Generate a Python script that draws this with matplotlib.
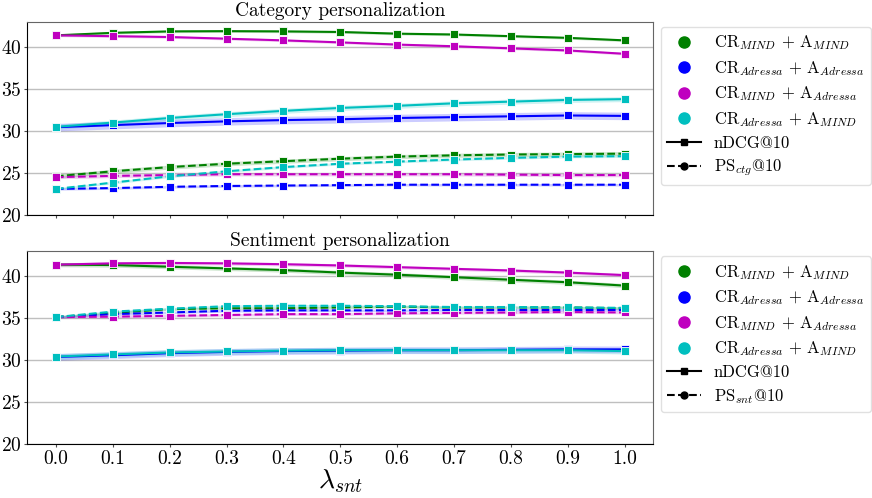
import matplotlib
matplotlib.use("Agg")
import matplotlib.pyplot as plt
from matplotlib.lines import Line2D
import numpy as np

plt.rcParams['font.family'] = 'serif'
plt.rcParams['font.serif'] = ['cmr10']
plt.rcParams['mathtext.fontset'] = 'cm'
plt.rcParams['axes.formatter.use_mathtext'] = True

# lambda values
lam = [0.0, 0.1, 0.2, 0.3, 0.4, 0.5, 0.6, 0.7, 0.8, 0.9, 1.0]

# ---- Category personalization (nDCG@10 / PS_ctg@10)
ctg_ndcg_mm = [41.4, 41.7, 41.87, 41.9, 41.87, 41.8, 41.6, 41.5, 41.3, 41.1, 40.8]
ctg_ndcg_aa = [30.45, 30.7, 30.95, 31.15, 31.3, 31.4, 31.55, 31.65, 31.75, 31.85, 31.8]
ctg_ndcg_ma = [41.4, 41.3, 41.2, 41.0, 40.8, 40.56, 40.3, 40.1, 39.85, 39.6, 39.2]
ctg_ndcg_am = [30.5, 31.0, 31.55, 32.0, 32.4, 32.75, 33.0, 33.3, 33.5, 33.7, 33.8]
ctg_ps_mm = [24.6, 25.2, 25.7, 26.1, 26.4, 26.7, 26.95, 27.1, 27.2, 27.25, 27.3]
ctg_ps_aa = [23.1, 23.2, 23.35, 23.45, 23.5, 23.55, 23.6, 23.6, 23.6, 23.6, 23.6]
ctg_ps_ma = [24.5, 24.65, 24.75, 24.85, 24.85, 24.85, 24.85, 24.85, 24.8, 24.75, 24.75]
ctg_ps_am = [23.1, 23.85, 24.6, 25.2, 25.7, 26.1, 26.35, 26.6, 26.8, 26.95, 27.0]

# ---- Sentiment personalization (nDCG@10 / PS_snt@10)
snt_ndcg_mm = [41.4, 41.35, 41.15, 40.95, 40.75, 40.45, 40.2, 39.9, 39.6, 39.3, 38.9]
snt_ndcg_aa = [30.4, 30.6, 30.85, 31.0, 31.1, 31.15, 31.2, 31.2, 31.25, 31.3, 31.3]
snt_ndcg_ma = [41.4, 41.55, 41.6, 41.55, 41.45, 41.3, 41.1, 40.9, 40.7, 40.45, 40.15]
snt_ndcg_am = [30.45, 30.7, 30.93, 31.05, 31.15, 31.2, 31.2, 31.2, 31.2, 31.2, 31.1]
snt_ps_mm = [35.15, 35.65, 36.1, 36.2, 36.2, 36.3, 36.4, 36.3, 36.3, 36.3, 36.2]
snt_ps_aa = [35.15, 35.5, 35.7, 35.9, 35.95, 35.95, 35.95, 36.0, 36.0, 36.0, 36.0]
snt_ps_ma = [35.15, 35.2, 35.3, 35.4, 35.5, 35.5, 35.6, 35.65, 35.7, 35.75, 35.7]
snt_ps_am = [35.15, 35.8, 36.15, 36.45, 36.5, 36.5, 36.45, 36.35, 36.35, 36.3, 36.25]

# half width of the shaded bands (same order as the series)
ctg_ndcg_ci = [0.15, 0.45, 0.15, 0.3]
ctg_ps_ci = [0.25, 0.15, 0.2, 0.15]
snt_ndcg_ci = [0.25, 0.4, 0.2, 0.35]
snt_ps_ci = [0.15, 0.15, 0.15, 0.15]

colors = ['g', 'b', 'm', 'c']
labels = [r'CR$_{MIND}$ + A$_{MIND}$',
          r'CR$_{Adressa}$ + A$_{Adressa}$',
          r'CR$_{MIND}$ + A$_{Adressa}$',
          r'CR$_{Adressa}$ + A$_{MIND}$']


def tracer(ax, serie, ci, couleur, style):
    y = np.array(serie)
    ax.fill_between(lam, y - ci, y + ci, color=couleur, alpha=0.2, lw=0)
    ax.plot(lam, y, linestyle=style, color=couleur, lw=1.5, marker='s',
            markersize=5.5, markeredgecolor='white', markeredgewidth=0.6)


def legende(ax, ps_label):
    handles = [Line2D([], [], ls='none', marker='o', color=c, markersize=8) for c in colors]
    handles.append(Line2D([], [], ls='-', color='k', marker='s', markersize=5, lw=1.5))
    handles.append(Line2D([], [], ls='--', color='k', marker='o', markersize=5, lw=1.5))
    ax.legend(handles, labels + [r'nDCG@10', ps_label], loc='upper left',
              bbox_to_anchor=(1.012, 0.974), fontsize=12, frameon=True,
              fancybox=True, edgecolor='0.85', borderaxespad=0,
              labelspacing=0.4)


def configurer(ax, titre):
    ax.set_xlim(-0.05, 1.05)
    ax.set_ylim(20, 43)
    ax.set_yticks([20, 25, 30, 35, 40])
    ax.set_xticks(lam)
    ax.grid(axis='y', color='0.75', lw=1)
    ax.set_axisbelow(True)
    ax.set_title(titre, fontsize=14, pad=4)
    ax.tick_params(labelsize=14, length=2.5, pad=1.5, color='0.3')
    ax.spines['left'].set_color('k')
    ax.spines['bottom'].set_color('k')
    ax.spines['top'].set_color('0.4')
    ax.spines['right'].set_color('0.4')


fig, (ax1, ax2) = plt.subplots(2, 1, figsize=(8.72, 4.98), dpi=100, sharex=True)
fig.subplots_adjust(left=0.0315, right=0.749, top=0.956, bottom=0.108, hspace=0.188)

ctg_ndcg = [ctg_ndcg_mm, ctg_ndcg_aa, ctg_ndcg_ma, ctg_ndcg_am]
ctg_ps = [ctg_ps_mm, ctg_ps_aa, ctg_ps_ma, ctg_ps_am]
snt_ndcg = [snt_ndcg_mm, snt_ndcg_aa, snt_ndcg_ma, snt_ndcg_am]
snt_ps = [snt_ps_mm, snt_ps_aa, snt_ps_ma, snt_ps_am]

for i in range(4):
    tracer(ax1, ctg_ndcg[i], ctg_ndcg_ci[i], colors[i], '-')
    tracer(ax1, ctg_ps[i], ctg_ps_ci[i], colors[i], '--')
    tracer(ax2, snt_ndcg[i], snt_ndcg_ci[i], colors[i], '-')
    tracer(ax2, snt_ps[i], snt_ps_ci[i], colors[i], '--')

configurer(ax1, 'Category personalization')
configurer(ax2, 'Sentiment personalization')
ax2.set_xticklabels(['%.1f' % v for v in lam])
ax2.set_xlabel(r'$\lambda_{snt}$', fontsize=20, labelpad=0)

legende(ax1, r'PS$_{ctg}$@10')
legende(ax2, r'PS$_{snt}$@10')

plt.savefig('out.png', dpi=100)
